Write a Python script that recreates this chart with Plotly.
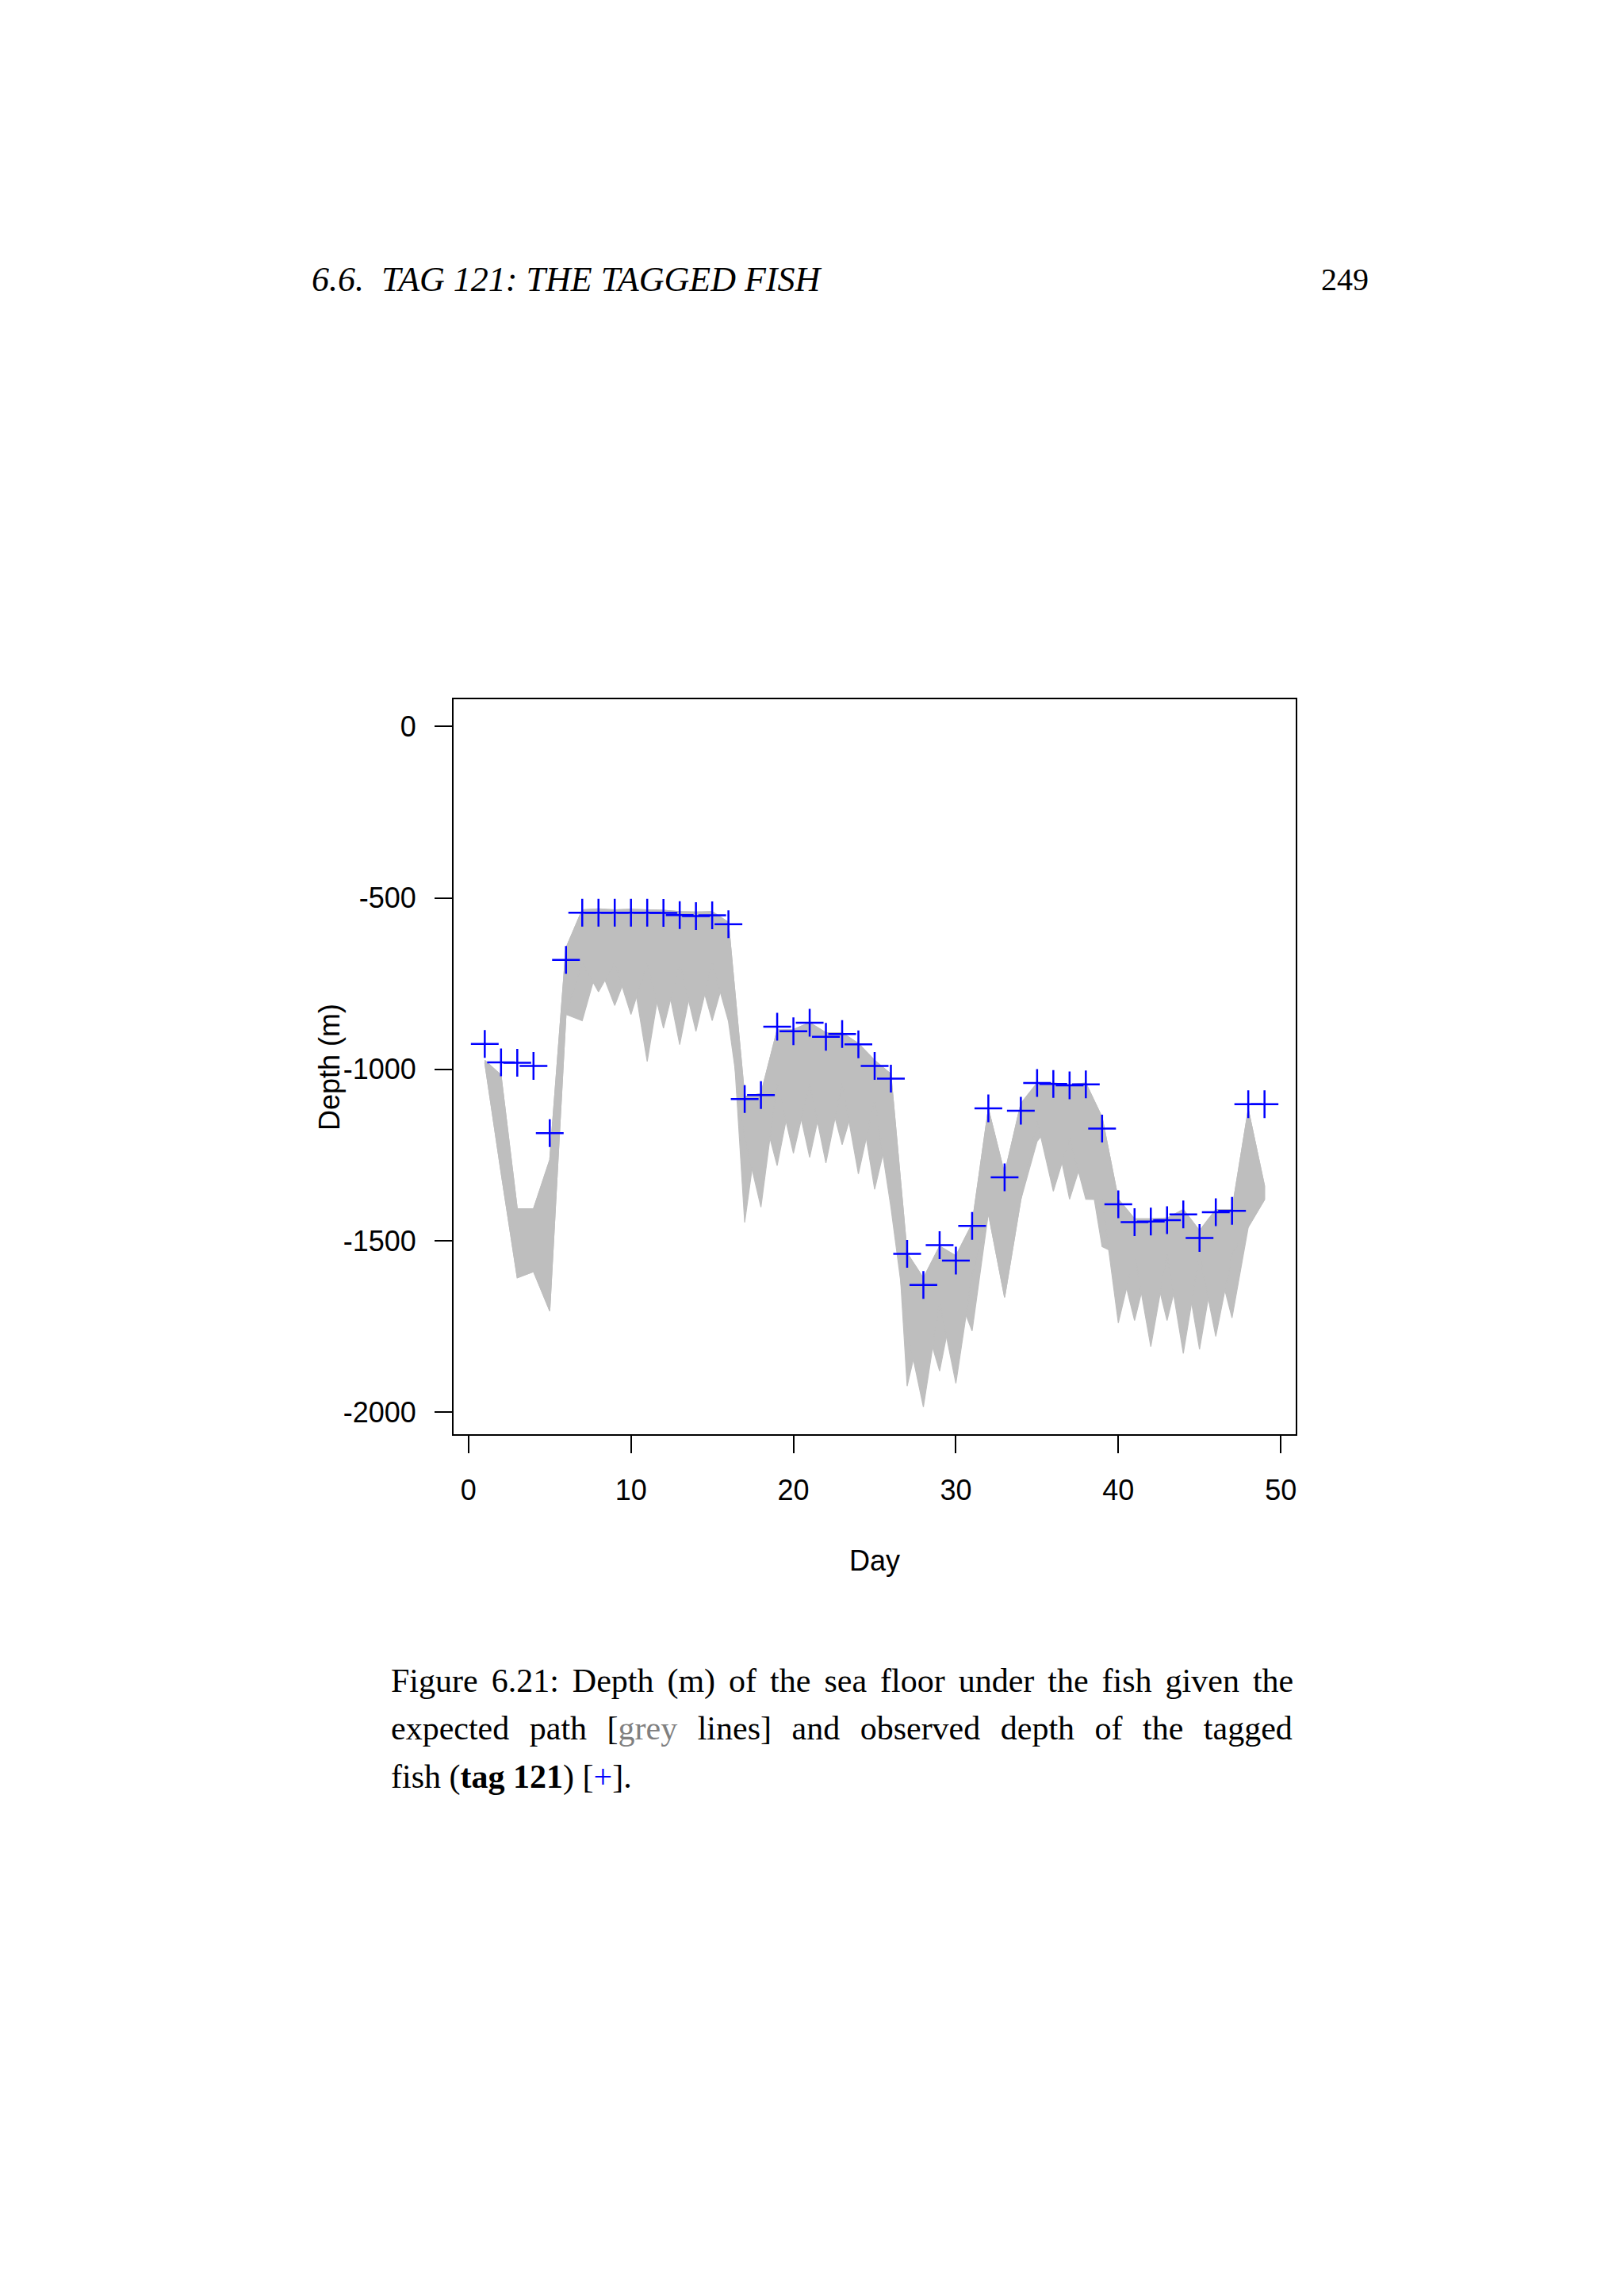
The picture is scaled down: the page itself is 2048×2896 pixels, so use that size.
import plotly.graph_objects as go

# ---------------- data ----------------
days = list(range(1, 50))

# observed depth of the tagged fish (blue +)
observed_depth = [-926, -980, -981, -990, -1186, -681, -543, -543, -543, -543,
                  -543, -544, -550, -553, -551, -577, -1087, -1075, -876, -889,
                  -864, -905, -897, -927, -990, -1027, -1538, -1629, -1513, -1558,
                  -1457, -1114, -1315, -1121, -1040, -1043, -1047, -1044, -1173, -1394,
                  -1446, -1444, -1440, -1423, -1492, -1417, -1413, -1102, -1102]

# upper envelope of the expected-path depths (grey lines)
sim_upper = [-974, -1017, -1407, -1407, -1264, -646, -535, -532, -535, -533,
             -535, -536, -540, -541, -540, -571, -1080, -1071, -885, -884,
             -864, -893, -893, -925, -974, -1014, -1536, -1609, -1516, -1544,
             -1451, -1115, -1305, -1100, -1040, -1040, -1044, -1040, -1140, -1379,
             -1436, -1436, -1434, -1409, -1471, -1409, -1409, -1117, -1340]

# two deepest expected paths (one dipping on odd days, one on even days)
sim_lower_a = [-981, -1300, -1608, -1590, -1705, -840, -858, -690, -814, -690,
               -977, -690, -928, -690, -858, -690, -1447, -1100, -1281, -1040,
               -1257, -1040, -1220, -1060, -1350, -1150, -1924, -1720, -1880, -1640,
               -1763, -1420, -1665, -1380, -1210, -1150, -1379, -1230, -1517, -1540,
               -1733, -1540, -1733, -1540, -1817, -1540, -1725, -1460, -1380]
sim_lower_b = [-981, -1300, -1608, -1590, -1705, -840, -690, -774, -690, -840,
               -690, -880, -690, -889, -690, -860, -1200, -1402, -1040, -1245,
               -1040, -1273, -1040, -1305, -1090, -1402, -1760, -1985, -1680, -1916,
               -1600, -1420, -1665, -1380, -1150, -1356, -1200, -1379, -1380, -1740,
               -1540, -1809, -1540, -1829, -1540, -1779, -1540, -1460, -1380]

x_ticks = [0, 10, 20, 30, 40, 50]
y_ticks = [0, -500, -1000, -1500, -2000]
y_tick_text = ["0", "-500", "-1000", "-1500", "-2000"]

# ---------------- figure ----------------
W, H = 2048, 2896
GREY = "#BEBEBE"
SANS = "Liberation Sans, Arial, Helvetica, sans-serif"
SERIF = "Liberation Serif, Times New Roman, serif"

fig = go.Figure()
for low in (sim_lower_a, sim_lower_b):
    fig.add_trace(go.Scatter(
        x=days + days[::-1], y=sim_upper + low[::-1],
        mode="lines", fill="toself", fillcolor=GREY,
        line=dict(color=GREY, width=1.2), hoverinfo="skip", showlegend=False))

fig.add_trace(go.Scatter(
    x=days, y=observed_depth, mode="markers",
    marker=dict(symbol="cross-thin", size=25, color="#0000FF",
                line=dict(color="#0000FF", width=2.5)),
    showlegend=False))

# plot box in page pixels
L, R, T, B = 572, 1634, 882, 1809
px = lambda v: v / W
py = lambda v: 1 - v / H

axis_common = dict(showline=True, mirror=True, linecolor="black", linewidth=2,
                   ticks="outside", ticklen=22, tickwidth=1.6, tickcolor="black",
                   showgrid=False, zeroline=False,
                   tickfont=dict(family=SANS, size=36, color="black"))

fig.update_layout(
    width=W, height=H, margin=dict(l=0, r=0, t=0, b=0),
    paper_bgcolor="white", plot_bgcolor="white",
    xaxis=dict(domain=[px(L), px(R)], range=[-0.92, 50.92],
               tickvals=x_ticks, ticklabelstandoff=16, **axis_common),
    yaxis=dict(domain=[py(B), py(T)], range=[-2064.4, 79.4],
               tickvals=y_ticks, ticktext=y_tick_text, ticklabelstandoff=16,
               **axis_common),
)

ann = []
ann.append(dict(text="Day", x=px(1103), y=py(1968), xref="paper", yref="paper",
                xanchor="center", yanchor="middle", showarrow=False,
                font=dict(family=SANS, size=36, color="black")))
ann.append(dict(text="Depth (m)", x=px(415), y=py(1346), xref="paper", yref="paper",
                xanchor="center", yanchor="middle", textangle=-90, showarrow=False,
                font=dict(family=SANS, size=36, color="black")))
# running header
ann.append(dict(text="<i>6.6.\u00a0\u00a0TAG 121: THE TAGGED FISH</i>", x=px(391), y=py(353),
                xref="paper", yref="paper", xanchor="left", yanchor="middle",
                showarrow=False, font=dict(family=SERIF, size=44, color="black")))
ann.append(dict(text="249", x=px(1728), y=py(353), xref="paper", yref="paper",
                xanchor="right", yanchor="middle", showarrow=False,
                font=dict(family=SERIF, size=40, color="black")))
# caption
cap_lines = [
    ("<span style='word-spacing:6.5px'>Figure 6.21: Depth (m) of the sea floor under the fish given the</span>", 2120),
    ("<span style='word-spacing:15px'>expected path [<span style='color:#808080'>grey</span> lines] and observed depth of the tagged</span>", 2180),
    ("fish (<b>tag 121</b>) [<span style='color:#0000FF'>+</span>].", 2241),
]
for txt, yy in cap_lines:
    ann.append(dict(text=txt, x=px(491), y=py(yy), xref="paper", yref="paper",
                    xanchor="left", yanchor="middle", showarrow=False,
                    font=dict(family=SERIF, size=42, color="black")))
fig.update_layout(annotations=ann)

fig.write_html("out.html", config={"displayModeBar": False},
               post_script="document.body.style.margin='0px';document.body.style.padding='0px';")
